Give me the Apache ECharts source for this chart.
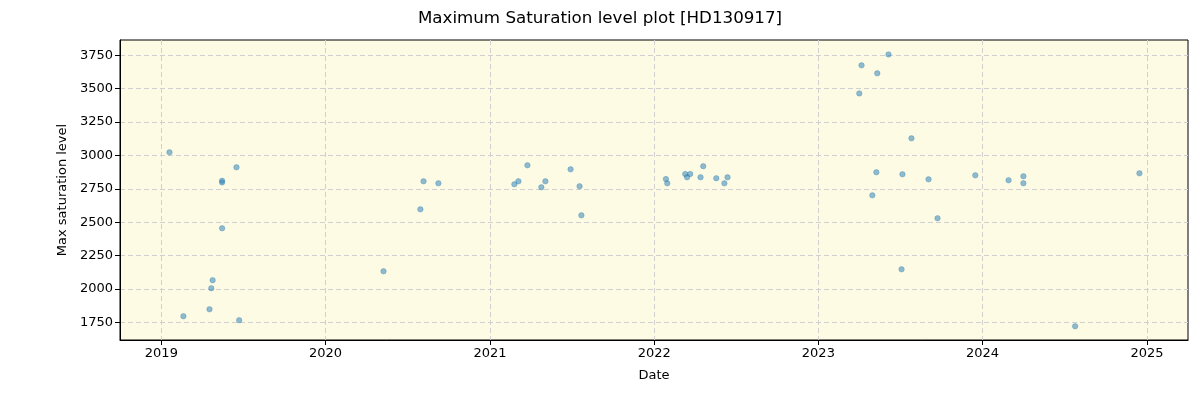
<!DOCTYPE html>
<html>
<head>
<meta charset="utf-8">
<script src="https://cdn.jsdelivr.net/npm/echarts@6/dist/echarts.min.js"></script>
<style>html,body{margin:0;padding:0;background:#fff;}#c{width:1200px;height:400px;}</style>
</head>
<body>
<div id="c"></div>
<script>
const dates = ["2019-01-19","2019-02-19","2019-04-18","2019-04-22","2019-04-25","2019-05-16","2019-05-16","2019-05-16","2019-06-17","2019-06-23",
"2020-05-09","2020-07-30","2020-08-06","2020-09-08",
"2021-02-24","2021-03-05","2021-03-25","2021-04-25","2021-05-04","2021-06-29","2021-07-19","2021-07-23",
"2022-01-27","2022-01-30","2022-03-11","2022-03-15","2022-03-22","2022-04-14","2022-04-20","2022-05-19","2022-06-06","2022-06-13",
"2023-04-02","2023-04-07","2023-05-01","2023-05-10","2023-05-12","2023-06-06","2023-07-05","2023-07-07","2023-07-27","2023-09-03","2023-09-23","2023-12-16",
"2024-02-28","2024-04-01","2024-04-01","2024-07-25","2024-12-15"];
const values = [3023,1795,1847,2005,2065,2810,2798,2454,2911,1765,
2132,2596,2806,2791,
2784,2806,2926,2761,2806,2896,2769,2551,
2823,2791,2861,2836,2861,2836,2919,2829,2791,2836,
3465,3675,2701,2874,3615,3757,2147,2859,3128,2821,2529,2851,
2814,2844,2791,1720,2866];
const yearTicks = [2019,2020,2021,2022,2023,2024,2025];
const yTicks = [1750,2000,2250,2500,2750,3000,3250,3500,3750];
const xMinDate = "2018-10-01", xMaxDate = "2025-04-02";
const yMin = 1617, yMax = 3865;

const ts = s => { const p = s.split('-').map(Number); return Date.UTC(p[0], p[1]-1, p[2]); };
const data = dates.map((d,i)=>[ts(d), values[i]]);
const xTickVals = yearTicks.map(y=>Date.UTC(y,0,1));

const chart = echarts.init(document.getElementById('c'), null, {renderer:'canvas'});
const font = 'DejaVu Sans';
chart.setOption({
  animation:false,
  backgroundColor:'#ffffff',
  title:{text:'Maximum Saturation level plot [HD130917]', left:'center', top:5,
    textStyle:{fontFamily:font, fontSize:16.7, fontWeight:'normal', color:'#000'}},
  grid:{left:120, right:12, top:40, bottom:60, show:true, backgroundColor:'#FDFBE3', borderColor:'#000', borderWidth:1},
  xAxis:{type:'value', min:ts(xMinDate), max:ts(xMaxDate),
    name:'Date', nameLocation:'middle', nameGap:29, nameTextStyle:{fontFamily:font, fontSize:13, color:'#000'},
    axisLine:{show:true, lineStyle:{color:'#000'}},
    axisTick:{show:true, length:5, customValues:xTickVals, lineStyle:{color:'#000'}},
    axisLabel:{customValues:xTickVals, fontFamily:font, fontSize:13, color:'#000', margin:7,
      formatter:v=>String(new Date(v).getUTCFullYear())},
    splitLine:{show:true, customValues:xTickVals, lineStyle:{color:'#d0d0d0', type:[5,3], width:1}}
  },
  yAxis:{type:'value', min:yMin, max:yMax,
    name:'Max saturation level', nameLocation:'middle', nameGap:51, nameRotate:90,
    nameTextStyle:{fontFamily:font, fontSize:13, color:'#000'},
    axisLine:{show:true, lineStyle:{color:'#000'}},
    axisTick:{show:true, length:5, customValues:yTicks, lineStyle:{color:'#000'}},
    axisLabel:{customValues:yTicks, fontFamily:font, fontSize:13, color:'#000', margin:7,
      formatter:v=>String(v)},
    splitLine:{show:true, customValues:yTicks, lineStyle:{color:'#d0d0d0', type:[5,3], width:1}}
  },
  series:[{type:'scatter', data:data, symbolSize:5.5,
    itemStyle:{color:'rgba(31,119,180,0.62)', borderColor:'rgba(31,119,180,0.7)', borderWidth:0.5}}]
});
</script>
</body>
</html>
